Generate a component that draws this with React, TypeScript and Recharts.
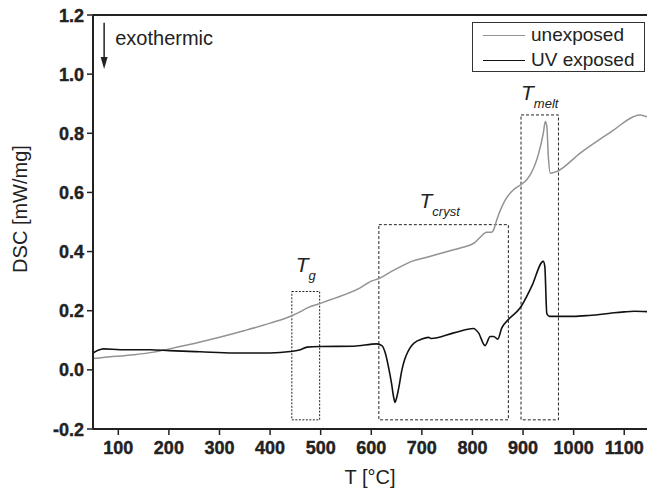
import React from "react";
import {
  ComposedChart,
  Line,
  XAxis,
  YAxis,
  ReferenceArea,
  ReferenceLine,
  ReferenceDot,
  Legend,
} from "recharts";

// axis ticks
const xTicks = [100, 200, 300, 400, 500, 600, 700, 800, 900, 1000, 1100];
const yTicks = [-0.2, 0, 0.2, 0.4, 0.6, 0.8, 1.0, 1.2];

// unexposed sample (grey)
const unexposedT = [
  50, 70, 84, 130, 170, 201, 262, 300, 350, 400, 443, 460, 473, 498, 519, 578,
  600, 614, 640, 665, 680, 710, 763, 776, 805, 815, 828, 838, 842, 848, 865,
  881, 898, 904, 914, 930, 940, 944, 947, 950, 954, 967, 1013, 1079, 1118,
  1131, 1145,
];
const unexposedDsc = [
  0.038, 0.042, 0.044, 0.051, 0.060, 0.071, 0.094, 0.110, 0.133, 0.158, 0.183,
  0.197, 0.209, 0.224, 0.237, 0.277, 0.300, 0.308, 0.333, 0.355, 0.367, 0.381,
  0.406, 0.412, 0.431, 0.448, 0.465, 0.465, 0.474, 0.507, 0.575, 0.609, 0.629,
  0.637, 0.659, 0.727, 0.800, 0.840, 0.823, 0.721, 0.665, 0.671, 0.733, 0.811,
  0.856, 0.862, 0.856,
];

// UV exposed sample (black)
const uvT = [
  50, 60, 71, 104, 163, 201, 262, 328, 400, 440, 460, 473, 499, 565, 611, 621,
  628, 634, 640, 644, 647, 650, 655, 660, 666, 672, 680, 690, 697, 713, 718,
  763, 802, 812, 825, 835, 842, 850, 858, 871, 894, 917, 940, 943, 947, 952,
  970, 1000, 1030, 1060, 1080, 1100, 1120, 1145,
];
const uvDsc = [
  0.057, 0.066, 0.071, 0.068, 0.068, 0.065, 0.061, 0.057, 0.057, 0.062, 0.068,
  0.077, 0.079, 0.080, 0.088, 0.082, 0.055, 0.010, -0.045, -0.090, -0.110,
  -0.095, -0.055, -0.005, 0.035, 0.060, 0.082, 0.097, 0.102, 0.110, 0.106,
  0.125, 0.140, 0.125, 0.082, 0.113, 0.113, 0.104, 0.142, 0.170, 0.209, 0.282,
  0.367, 0.350, 0.190, 0.181, 0.181, 0.181, 0.184, 0.189, 0.193, 0.196, 0.198,
  0.197,
];

// dashed transition boxes: subscript, T range, DSC range
const boxSubs = ["g", "cryst", "melt"];
const boxT = [
  [443, 498],
  [615, 871],
  [896, 970],
];
const boxDsc = [
  [-0.169, 0.265],
  [-0.169, 0.491],
  [-0.169, 0.862],
];

const legendOrder = ["unexposed", "UV exposed"];

const unexposedData = unexposedT.map((t, i) => ({ t, dsc: unexposedDsc[i] }));
const uvData = uvT.map((t, i) => ({ t, dsc: uvDsc[i] }));

const FONT = "'Liberation Sans', Arial, Helvetica, sans-serif";
const INK = "#222";

function renderLegend(props: any) {
  const items = [...(props.payload || [])].sort(
    (a: any, b: any) => legendOrder.indexOf(a.value) - legendOrder.indexOf(b.value)
  );
  return (
    <div
      style={{
        width: 173,
        height: 50,
        boxSizing: "border-box",
        border: "1px solid #333",
        background: "#fff",
        position: "relative",
        fontFamily: FONT,
      }}
    >
      {items.map((entry: any, i: number) => (
        <div
          key={entry.value}
          style={{
            position: "absolute",
            left: 10,
            top: 1 + i * 25,
            height: 22,
            display: "flex",
            alignItems: "center",
          }}
        >
          <div style={{ width: 42, height: 0, borderTop: `1.5px solid ${entry.color}` }} />
          <span style={{ marginLeft: 6, fontSize: 19, color: INK, lineHeight: "22px" }}>
            {entry.value}
          </span>
        </div>
      ))}
    </div>
  );
}

function XTick(props: any) {
  const { x, y, payload } = props;
  return (
    <text
      x={x}
      y={y + 17}
      textAnchor="middle"
      fontSize={18}
      fontWeight="bold"
      fontFamily={FONT}
      fill={INK}
      stroke={INK}
      strokeWidth={0.4}
    >
      {payload.value}
    </text>
  );
}

function YTick(props: any) {
  const { x, y, payload } = props;
  return (
    <text
      x={x}
      y={y + 6.5}
      textAnchor="end"
      fontSize={18}
      fontWeight="bold"
      fontFamily={FONT}
      fill={INK}
      stroke={INK}
      strokeWidth={0.4}
    >
      {Number(payload.value).toFixed(1)}
    </text>
  );
}

function boxLabel(sub: string, i: number) {
  return (props: any) => {
    const { viewBox } = props;
    const cx = viewBox.x + viewBox.width / 2 - (i === 1 ? 4 : 0);
    const y = viewBox.y - (i === 0 ? 19 : i === 1 ? 17 : 15);
    return (
      <text x={cx} y={y} textAnchor="middle" fontFamily={FONT} fill={INK} fontStyle="italic">
        <tspan fontSize={21}>T</tspan>
        <tspan fontSize={13} dy={8}>
          {sub}
        </tspan>
      </text>
    );
  };
}

export default function App() {
  return (
    <div style={{ position: "absolute", left: 0, top: 0, background: "#fff" }}>
      <ComposedChart
        width={647}
        height={492}
        margin={{ top: 15, right: 0, bottom: 0, left: 0 }}
      >
        <XAxis
          type="number"
          dataKey="t"
          domain={[50, 1145]}
          ticks={xTicks}
          allowDataOverflow
          height={63}
          axisLine={{ stroke: INK, strokeWidth: 2 }}
          tickLine={{ stroke: INK, strokeWidth: 1.5 }}
          tickSize={6}
          tickMargin={2}
          tick={<XTick />}
          label={{
            content: (p: any) => (
              <text
                x={p.viewBox.x + p.viewBox.width / 2}
                y={p.viewBox.y + 55}
                textAnchor="middle"
                fontSize={20}
                fontFamily={FONT}
                fill={INK}
              >
                T [°C]
              </text>
            ),
          }}
        />
        <YAxis
          type="number"
          domain={[-0.2, 1.2]}
          ticks={yTicks}
          allowDataOverflow
          width={93}
          axisLine={{ stroke: INK, strokeWidth: 2 }}
          tickLine={{ stroke: INK, strokeWidth: 1.5 }}
          tickSize={6}
          tickMargin={3}
          tick={<YTick />}
          label={{
            content: () => (
              <text
                x={27}
                y={209}
                transform="rotate(-90 27 209)"
                textAnchor="middle"
                fontSize={20}
                fontFamily={FONT}
                fill={INK}
              >
                DSC [mW/mg]
              </text>
            ),
          }}
        />
        <ReferenceLine y={1.2} stroke={INK} strokeWidth={2} />

        {boxSubs.map((sub, i) => (
          <ReferenceArea
            key={sub}
            x1={boxT[i][0]}
            x2={boxT[i][1]}
            y1={boxDsc[i][0]}
            y2={boxDsc[i][1]}
            fill="none"
            fillOpacity={0}
            stroke={INK}
            strokeWidth={1}
            strokeDasharray={i === 0 ? "2 1.5" : "3 2"}
            label={{ content: boxLabel(sub, i) }}
          />
        ))}

        {/* exothermic arrow */}
        <ReferenceLine
          segment={[
            { x: 72, y: 1.174 },
            { x: 72, y: 1.03 },
          ]}
          stroke={INK}
          strokeWidth={1.5}
        />
        <ReferenceDot
          x={72}
          y={1.017}
          shape={(p: any) => (
            <path
              d={`M${p.cx - 3.5},${p.cy - 12} L${p.cx + 3.5},${p.cy - 12} L${p.cx},${p.cy} Z`}
              fill={INK}
            />
          )}
        />
        <ReferenceDot
          x={94}
          y={1.099}
          shape={(p: any) => (
            <text x={p.cx} y={p.cy} fontSize={20} fontFamily={FONT} fill={INK}>
              exothermic
            </text>
          )}
        />

        <Line
          data={unexposedData}
          dataKey="dsc"
          name="unexposed"
          type="monotone"
          stroke="#939393"
          strokeWidth={1.5}
          dot={false}
          activeDot={false}
          isAnimationActive={false}
        />
        <Line
          data={uvData}
          dataKey="dsc"
          name="UV exposed"
          type="monotone"
          stroke="#111"
          strokeWidth={1.6}
          dot={false}
          activeDot={false}
          isAnimationActive={false}
        />
        <Legend
          layout="vertical"
          align="center"
          verticalAlign="middle"
          content={renderLegend}
          wrapperStyle={{ position: "absolute", left: 472, top: 22, width: 173, height: 50 }}
        />
      </ComposedChart>
    </div>
  );
}
